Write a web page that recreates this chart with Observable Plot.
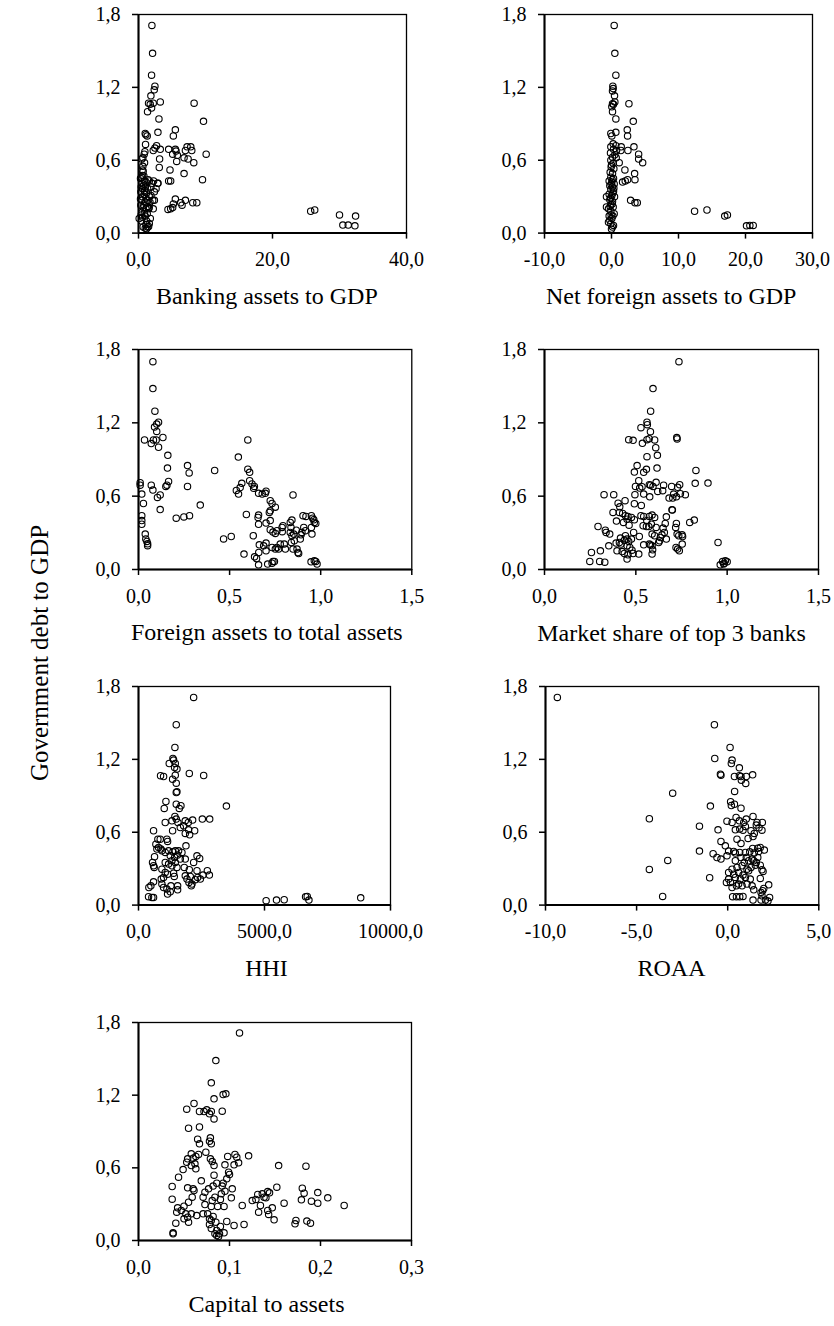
<!DOCTYPE html>
<html>
<head>
<meta charset="utf-8">
<script src="https://cdn.jsdelivr.net/npm/d3@7"></script>
<script src="https://cdn.jsdelivr.net/npm/@observablehq/plot@0.6"></script>
<style>
  body { margin: 0; background: #fff; }
  #fig { position: relative; width: 834px; height: 1326px; font-family: "Liberation Serif", "Times New Roman", serif; color: #000; }
  #ytitle { position: absolute; left: 40px; top: 653px; transform: translate(-50%, -50%) rotate(-90deg); font-size: 25px; white-space: nowrap; }
</style>
</head>
<body>
<div id="fig"><div id="ytitle">Government debt to GDP</div></div>
<script>
// Government debt to GDP (y) against seven banking-sector indicators (x).
const yTicks = [0, 0.6, 1.2, 1.8];

// Each series holds [indicator value, government debt to GDP] pairs.
const bankingAssetsToGdp = [
  [2.0,1.71],[2.1,1.48],[1.95,1.30],[2.45,1.21],[2.35,1.18],[1.85,1.13],[3.25,1.08],[1.5,1.07],[2.2,1.07],[1.75,1.06],
  [1.95,1.03],[1.35,1.0],[8.3,1.07],[9.7,0.92],[3.05,0.94],[2.9,0.83],[1.0,0.82],[1.1,0.81],[1.3,0.80],[5.5,0.85],
  [5.2,0.80],[1.05,0.73],[2.7,0.72],[2.45,0.70],[2.2,0.68],[3.25,0.69],[0.95,0.67],[0.85,0.65],[4.5,0.69],[5.5,0.69],
  [5.6,0.675],[5.1,0.65],[5.8,0.64],[7.25,0.71],[7.8,0.71],[7.95,0.68],[7.0,0.68],[6.8,0.62],[7.4,0.61],[8.25,0.58],
  [10.1,0.65],[5.7,0.59],[3.15,0.61],[3.1,0.54],[0.65,0.62],[0.5,0.61],[0.65,0.55],[0.7,0.51],[4.7,0.52],[6.8,0.49],
  [4.5,0.43],[4.8,0.43],[9.55,0.44],[2.9,0.41],[2.25,0.43],[1.45,0.44],
  [0.6,0.475],[0.45,0.46],[0.86,0.43],[0.5,0.41],[1.11,0.42],[0.76,0.39],[1.01,0.38],[0.6,0.365],[1.36,0.365],[0.35,0.34],
  [0.86,0.32],[1.21,0.33],[0.6,0.30],[1.11,0.29],[1.61,0.30],[0.5,0.27],[0.96,0.255],[1.36,0.27],[1.86,0.31],[0.35,0.23],
  [0.71,0.21],[1.11,0.2],[1.51,0.2],[0.5,0.17],[0.86,0.16],[0.6,0.13],[0.1,0.12],[0.45,0.1],[1.01,0.14],[1.21,0.1],
  [1.11,0.07],[1.36,0.05],[1.01,0.04],[1.21,0.035],[1.51,0.055],[1.61,0.08],[1.76,0.12],[1.86,0.38],[2.02,0.41],[1.61,0.43],
  [2.12,0.27],[2.37,0.27],[1.71,0.255],[2.87,0.41],[2.62,0.365],[2.37,0.34],
  [0.3,0.45],[0.8,0.47],[0.4,0.38],[0.9,0.35],[0.3,0.28],[0.8,0.23],[0.4,0.15],[0.7,0.05],[1.3,0.16],[0.55,0.52],[0.9,0.58],
  [1.4,0.22],[1.6,0.21],[2.2,0.20],[5.5,0.28],[5.2,0.24],[5.1,0.21],[4.8,0.20],[4.4,0.195],[6.3,0.25],[6.5,0.23],
  [7.0,0.27],[8.1,0.25],[8.7,0.25],[25.7,0.18],[26.3,0.19],[30.0,0.15],[32.4,0.14],[30.5,0.066],[31.3,0.066],[32.3,0.06]
];

const netForeignAssetsToGdp = [
  [0.4,1.71],[0.5,1.48],[0.65,1.30],[0.2,1.21],[0.25,1.19],[0.15,1.17],[0.45,1.13],[0.5,1.08],[0.15,1.065],[0.3,1.06],
  [0.05,1.04],[0.15,1.0],[2.6,1.065],[3.25,0.92],[0.65,0.94],[2.35,0.85],[2.4,0.80],[0.65,0.83],[-0.1,0.82],[0.05,0.80],
  [1.45,0.71],[1.4,0.68],[2.45,0.68],[3.35,0.71],[4.05,0.65],[4.05,0.61],[4.65,0.58],[1.15,0.58],[2.0,0.52],[3.45,0.49],
  [3.5,0.44],[2.4,0.44],[2.05,0.43],[1.65,0.42],[2.85,0.27],[3.5,0.25],[3.85,0.25],
  [12.4,0.18],[14.25,0.19],[16.9,0.14],[17.3,0.15],[20.15,0.06],[20.65,0.063],[21.15,0.063],
  [0.25,0.735],[0.65,0.72],[-0.1,0.71],[0.3,0.69],[0.75,0.68],[-0.15,0.66],[0.5,0.645],[0.15,0.625],[0.7,0.62],[-0.1,0.60],
  [0.25,0.575],[-0.05,0.545],[0.35,0.53],[-0.2,0.50],[0.15,0.49],[-0.1,0.46],[0.3,0.45],[-0.35,0.43],[0.05,0.42],[0.4,0.405],
  [-0.25,0.39],[0.15,0.38],[-0.1,0.36],[0.3,0.345],[-0.35,0.32],[0.05,0.31],[-0.75,0.30],[0.45,0.30],[-0.25,0.275],[0.15,0.26],
  [-0.1,0.235],[-0.75,0.215],[-0.45,0.20],[0.25,0.215],[-0.1,0.18],[0.4,0.16],[-0.35,0.14],[0.05,0.12],[-0.45,0.09],[-0.1,0.077],
  [0.15,0.05],[0.0,0.033],[0.3,0.063],[-0.25,0.105],
  [0.1,0.44],[-0.05,0.40],[0.2,0.33],[-0.15,0.29],[0.1,0.24],[-0.2,0.22],[0.2,0.14],[-0.05,0.15],[0.35,0.37],[0.0,0.56]
];

const foreignToTotalAssets = [
  [0.079,1.70],[0.079,1.48],[0.09,1.295],[0.11,1.205],[0.10,1.19],[0.088,1.165],[0.10,1.13],[0.134,1.08],[0.033,1.06],[0.082,1.06],
  [0.097,1.06],[0.07,1.03],[0.11,1.0],[0.161,0.934],[0.159,0.83],[0.269,0.85],[0.278,0.79],[0.418,0.81],[0.165,0.72],[0.156,0.69],
  [0.15,0.68],[0.269,0.68],[0.07,0.69],[0.079,0.65],[0.009,0.71],[0.009,0.69],[0.018,0.617],[0.027,0.54],[0.119,0.61],[0.104,0.59],
  [0.119,0.49],[0.339,0.527],[0.207,0.42],[0.249,0.43],[0.28,0.44],[0.018,0.44],[0.018,0.40],[0.018,0.37],[0.037,0.29],[0.04,0.25],
  [0.046,0.23],[0.05,0.21],[0.05,0.195],[0.467,0.25],[0.509,0.27],[0.548,0.92],[0.60,1.06],[0.60,0.82],[0.61,0.795],[0.61,0.726],
  [0.537,0.647],[0.549,0.617],[0.558,0.67],[0.567,0.705],[0.623,0.70],[0.636,0.68],[0.632,0.664],[0.659,0.623],[0.679,0.617],[0.696,0.623],
  [0.70,0.64],[0.723,0.563],[0.733,0.54],[0.751,0.51],[0.718,0.467],[0.723,0.48],[0.848,0.61],[0.592,0.45],[0.659,0.445],[0.656,0.426],
  [0.659,0.37],[0.70,0.38],[0.723,0.40],[0.63,0.276],[0.723,0.325],[0.738,0.306],[0.751,0.295],[0.76,0.317],[0.788,0.344],[0.793,0.358],
  [0.789,0.309],[0.833,0.385],[0.842,0.404],[0.837,0.344],[0.833,0.303],[0.842,0.276],[0.852,0.29],[0.839,0.221],[0.855,0.235],[0.866,0.322],
  [0.903,0.44],[0.919,0.434],[0.907,0.344],[0.897,0.303],[0.892,0.284],[0.888,0.249],[0.949,0.44],[0.956,0.42],[0.962,0.407],[0.965,0.385],
  [0.973,0.377],[0.952,0.29],[0.949,0.344],[0.916,0.317],[0.87,0.167],[0.875,0.139],[0.879,0.131],[0.848,0.167],[0.80,0.208],[0.778,0.208],
  [0.76,0.18],[0.751,0.167],[0.806,0.167],[0.769,0.167],[0.733,0.18],[0.70,0.216],[0.687,0.194],[0.663,0.202],[0.70,0.153],[0.66,0.139],
  [0.637,0.104],[0.648,0.09],[0.579,0.126],[0.659,0.038],[0.709,0.044],[0.733,0.052],[0.746,0.066],[0.738,0.066],[0.947,0.063],[0.965,0.071],
  [0.973,0.066],[0.98,0.044]
];

const top3MarketShare = [
  [0.736,1.70],[0.594,1.48],[0.581,1.295],[0.561,1.205],[0.563,1.185],[0.528,1.16],[0.58,1.128],[0.461,1.062],[0.485,1.057],[0.536,1.032],
  [0.561,1.062],[0.573,1.07],[0.603,1.06],[0.609,0.997],[0.561,0.923],[0.618,0.934],[0.724,1.079],[0.726,1.068],[0.507,0.85],[0.558,0.82],
  [0.543,0.795],[0.616,0.83],[0.829,0.811],[0.825,0.705],[0.895,0.707],[0.492,0.797],[0.516,0.726],[0.498,0.68],[0.521,0.666],[0.534,0.677],
  [0.574,0.694],[0.581,0.69],[0.594,0.68],[0.611,0.713],[0.62,0.639],[0.652,0.69],[0.647,0.645],[0.696,0.68],[0.707,0.617],[0.682,0.584],
  [0.702,0.584],[0.722,0.595],[0.74,0.694],[0.729,0.672],[0.744,0.62],[0.771,0.612],[0.70,0.486],[0.543,0.617],[0.576,0.595],[0.495,0.612],
  [0.326,0.612],[0.379,0.612],[0.441,0.563],[0.492,0.538],[0.53,0.524],[0.403,0.543],[0.412,0.513],[0.375,0.467],[0.41,0.467],[0.428,0.459],
  [0.443,0.44],[0.457,0.434],[0.476,0.426],[0.492,0.407],[0.452,0.412],[0.432,0.385],[0.394,0.396],[0.463,0.363],[0.528,0.44],[0.543,0.434],
  [0.574,0.434],[0.589,0.445],[0.603,0.426],[0.56,0.399],[0.54,0.358],[0.558,0.352],[0.571,0.352],[0.585,0.371],[0.611,0.344],[0.589,0.29],
  [0.603,0.276],[0.649,0.339],[0.661,0.377],[0.667,0.431],[0.698,0.489],[0.656,0.303],[0.643,0.284],[0.634,0.262],[0.625,0.221],[0.63,0.235],
  [0.667,0.249],[0.722,0.377],[0.718,0.344],[0.726,0.29],[0.735,0.276],[0.753,0.284],[0.756,0.27],[0.754,0.208],[0.72,0.18],[0.729,0.167],
  [0.738,0.153],[0.795,0.385],[0.82,0.404],[0.95,0.221],[0.975,0.066],[0.99,0.071],[1.0,0.063],[0.962,0.038],[0.981,0.044],[0.984,0.052],
  [0.293,0.352],[0.333,0.322],[0.337,0.303],[0.357,0.29],[0.352,0.194],[0.392,0.216],[0.41,0.221],[0.416,0.257],[0.443,0.276],[0.452,0.249],
  [0.437,0.24],[0.461,0.229],[0.476,0.249],[0.488,0.303],[0.519,0.27],[0.419,0.208],[0.452,0.194],[0.467,0.18],[0.479,0.158],[0.397,0.153],
  [0.425,0.147],[0.437,0.131],[0.457,0.12],[0.485,0.131],[0.452,0.085],[0.516,0.126],[0.543,0.202],[0.574,0.208],[0.589,0.194],[0.58,0.2],
  [0.592,0.161],[0.589,0.126],[0.257,0.139],[0.306,0.153],[0.248,0.066],[0.302,0.066],[0.33,0.06]
];

const hhi = [
  [2188,1.71],[1498,1.485],[1445,1.298],[1366,1.207],[1392,1.194],[1220,1.166],[1459,1.166],[1432,1.133],[1525,1.12],[2016,1.084],
  [2586,1.067],[875,1.065],[995,1.059],[1459,1.07],[1353,1.037],[1498,1.004],[1525,0.933],[1498,0.927],[1088,0.853],[1021,0.796],
  [1498,0.831],[1684,0.818],[1618,0.796],[3488,0.815],[1445,0.73],[1061,0.68],[1326,0.694],[1353,0.612],[1498,0.708],[1565,0.68],
  [1658,0.639],[1856,0.694],[1976,0.68],[2148,0.70],[1790,0.653],[1989,0.62],[1856,0.59],[2029,0.579],[2228,0.612],[2533,0.708],
  [2825,0.708],[597,0.612],[769,0.543],[862,0.543],[1127,0.543],[1154,0.524],[690,0.502],[796,0.475],[889,0.461],[928,0.447],
  [729,0.461],[636,0.398],[557,0.351],[597,0.324],[623,0.31],[597,0.192],[491,0.159],[411,0.145],[398,0.069],[530,0.063],
  [597,0.063],[1061,0.434],[1193,0.447],[1366,0.439],[1459,0.447],[1591,0.447],[1724,0.434],[1883,0.488],[1260,0.406],[1432,0.392],
  [1552,0.412],[1326,0.365],[1459,0.351],[1658,0.379],[1856,0.379],[1061,0.351],[1193,0.338],[1326,0.324],[1525,0.31],[1817,0.31],
  [2016,0.291],[2188,0.351],[2321,0.406],[2427,0.384],[928,0.296],[1061,0.269],[1154,0.255],[1392,0.263],[1419,0.236],[995,0.228],
  [902,0.214],[928,0.173],[995,0.145],[1127,0.132],[1286,0.159],[1552,0.159],[1552,0.126],[1154,0.091],[1260,0.11],[1923,0.214],
  [2002,0.187],[2095,0.159],[2122,0.173],[1856,0.241],[2055,0.236],[2254,0.209],[2347,0.228],[2559,0.247],[2732,0.283],[2812,0.247],
  [2321,0.283],[2453,0.214],[5065,0.036],[5476,0.041],[5781,0.044],[6630,0.069],[6696,0.071],[6763,0.041],[8818,0.06]
];

const roaa = [
  [-9.35,1.71],[-0.73,1.485],[0.13,1.298],[-0.71,1.207],[0.24,1.194],[0.2,1.166],[0.64,1.13],[-0.4,1.078],[-0.37,1.07],[0.37,1.059],
  [0.64,1.065],[0.73,1.059],[1.02,1.059],[1.37,1.073],[0.75,1.029],[0.99,1.002],[0.38,0.936],[-3.02,0.922],[-0.95,0.815],[0.16,0.851],
  [0.2,0.82],[0.37,0.831],[0.73,0.798],[-4.3,0.711],[-1.55,0.65],[-0.53,0.62],[-1.55,0.445],[-0.8,0.423],[-0.37,0.524],[-0.13,0.488],
  [-0.59,0.392],[-0.37,0.379],[-4.3,0.294],[-3.29,0.368],[-3.57,0.071],[-0.99,0.225],[-0.04,0.691],[0.24,0.681],[0.46,0.722],[0.64,0.694],
  [0.88,0.681],[1.02,0.708],[1.39,0.73],[1.61,0.681],[1.9,0.681],[0.42,0.62],[0.66,0.626],[0.84,0.617],[0.97,0.648],[1.28,0.612],
  [1.46,0.59],[1.57,0.659],[1.72,0.637],[1.88,0.617],[1.39,0.565],[1.12,0.549],[0.51,0.543],[0.73,0.508],[0.05,0.445],[0.33,0.442],
  [0.42,0.428],[-0.04,0.406],[0.66,0.434],[0.97,0.434],[1.21,0.439],[1.37,0.466],[1.65,0.469],[1.79,0.475],[2.01,0.453],[1.7,0.442],
  [1.46,0.428],[1.65,0.392],[1.34,0.379],[1.02,0.392],[0.73,0.392],[0.42,0.365],[0.91,0.351],[1.15,0.365],[1.43,0.365],[1.57,0.351],
  [1.79,0.329],[1.88,0.291],[1.94,0.277],[1.52,0.329],[1.28,0.31],[1.06,0.296],[0.79,0.324],[0.51,0.31],[0.24,0.296],[0.05,0.269],
  [0.33,0.255],[0.6,0.269],[0.84,0.247],[1.15,0.283],[0.42,0.228],[0.7,0.214],[0.97,0.228],[1.24,0.214],[1.79,0.22],[0.05,0.214],
  [-0.07,0.187],[0.15,0.187],[0.24,0.145],[0.48,0.159],[0.6,0.173],[0.79,0.159],[1.06,0.173],[1.34,0.159],[1.43,0.126],[1.83,0.104],
  [1.92,0.118],[1.88,0.077],[1.98,0.137],[2.25,0.167],[0.27,0.069],[0.48,0.069],[0.66,0.069],[0.84,0.071],[1.39,0.041],[1.83,0.041],
  [2.07,0.041],[2.21,0.033],[2.3,0.063]
];

const capitalToAssets = [
  [0.111,1.714],[0.085,1.486],[0.080,1.302],[0.093,1.205],[0.096,1.211],[0.083,1.17],[0.061,1.131],[0.053,1.084],[0.067,1.065],[0.072,1.065],
  [0.075,1.079],[0.080,1.065],[0.078,1.046],[0.092,1.068],[0.083,1.004],[0.055,0.927],[0.067,0.938],[0.065,0.837],[0.067,0.798],[0.079,0.848],
  [0.078,0.82],[0.08,0.798],[0.074,0.729],[0.058,0.716],[0.054,0.674],[0.053,0.647],[0.06,0.68],[0.063,0.694],[0.066,0.71],[0.062,0.633],
  [0.063,0.592],[0.058,0.619],[0.079,0.674],[0.081,0.652],[0.083,0.619],[0.098,0.694],[0.106,0.71],[0.108,0.688],[0.11,0.641],[0.105,0.625],
  [0.095,0.625],[0.121,0.699],[0.154,0.619],[0.184,0.614],[0.049,0.586],[0.044,0.523],[0.037,0.446],[0.037,0.341],[0.069,0.493],[0.083,0.539],
  [0.099,0.564],[0.1,0.545],[0.097,0.509],[0.093,0.473],[0.086,0.473],[0.082,0.449],[0.077,0.427],[0.073,0.399],[0.071,0.358],[0.092,0.449],
  [0.095,0.407],[0.103,0.427],[0.091,0.385],[0.09,0.339],[0.102,0.352],[0.084,0.358],[0.081,0.33],[0.087,0.281],[0.094,0.281],[0.08,0.281],
  [0.073,0.297],[0.054,0.435],[0.06,0.427],[0.061,0.413],[0.059,0.358],[0.055,0.316],[0.05,0.283],[0.043,0.27],[0.047,0.248],[0.042,0.234],
  [0.052,0.22],[0.054,0.193],[0.05,0.179],[0.055,0.151],[0.058,0.22],[0.064,0.206],[0.071,0.22],[0.076,0.22],[0.078,0.179],[0.08,0.165],
  [0.078,0.132],[0.08,0.099],[0.082,0.198],[0.085,0.151],[0.086,0.083],[0.084,0.055],[0.086,0.041],[0.088,0.033],[0.089,0.055],[0.094,0.063],
  [0.09,0.116],[0.097,0.157],[0.105,0.124],[0.116,0.132],[0.041,0.143],[0.038,0.063],[0.038,0.055],[0.114,0.289],[0.125,0.33],[0.129,0.339],
  [0.131,0.38],[0.136,0.385],[0.134,0.289],[0.132,0.234],[0.138,0.358],[0.14,0.352],[0.142,0.404],[0.144,0.394],[0.142,0.248],[0.143,0.215],
  [0.147,0.27],[0.152,0.44],[0.149,0.171],[0.16,0.308],[0.172,0.138],[0.173,0.165],[0.179,0.336],[0.18,0.432],[0.182,0.391],[0.185,0.16],
  [0.189,0.143],[0.19,0.325],[0.197,0.396],[0.197,0.308],[0.208,0.352],[0.226,0.289]
];

// Panel layout: frame box [left, top, right, bottom] in page pixels.
const panels = [
  {title: "Banking assets to GDP",           data: bankingAssetsToGdp,    domain: [0, 40],     ticks: [0, 20, 40],           box: [137.7, 13.7, 405.7, 232.3], titleX: 266},
  {title: "Net foreign assets to GDP",       data: netForeignAssetsToGdp, domain: [-10, 30],   ticks: [-10, 0, 10, 20, 30],  box: [544.3, 13.7, 812.3, 232.3], titleX: 671},
  {title: "Foreign assets to total assets",  data: foreignToTotalAssets,  domain: [0, 1.5],    ticks: [0, 0.5, 1, 1.5],      box: [137.7, 349, 411, 569],      titleX: 266},
  {title: "Market share of top 3 banks",     data: top3MarketShare,       domain: [0, 1.5],    ticks: [0, 0.5, 1, 1.5],      box: [544, 349, 818, 569],        titleX: 671},
  {title: "HHI",                             data: hhi,                   domain: [0, 10000],  ticks: [0, 5000, 10000],      box: [138, 685.7, 390, 904.3],    titleX: 266},
  {title: "ROAA",                            data: roaa,                  domain: [-10, 5],    ticks: [-10, -5, 0, 5],       box: [545, 685.7, 818.3, 904.3],  titleX: 671},
  {title: "Capital to assets",               data: capitalToAssets,       domain: [0, 0.3],    ticks: [0, 0.1, 0.2, 0.3],    box: [138, 1022, 411, 1240],      titleX: 266}
];

const fmt = d => d.toFixed(1).replace(".", ",");
const fig = document.getElementById("fig");
const mL = 75, mT = 14, mR = 45, mB = 100;

for (const p of panels) {
  const [l, t, r, b] = p.box;
  const w = r - l, h = b - t;
  const chart = Plot.plot({
    width: w + mL + mR,
    height: h + mT + mB,
    marginLeft: mL, marginTop: mT, marginRight: mR, marginBottom: mB,
    style: {fontFamily: "'Liberation Serif', 'Times New Roman', serif", fontSize: "20px", color: "#000", background: "transparent", overflow: "visible"},
    x: {domain: p.domain},
    y: {domain: [0, 1.8]},
    marks: [
      Plot.frame({stroke: "#000", strokeWidth: 1.3}),
      Plot.axisX({ticks: p.ticks, tickFormat: fmt, tickSize: 6, tickPadding: 13, label: null, strokeWidth: 1.5}),
      Plot.axisY({ticks: yTicks, tickFormat: fmt, tickSize: 6, tickPadding: 12, label: null, strokeWidth: 1.5}),
      Plot.ruleY([0], {stroke: "#000", strokeWidth: 2}),
      Plot.ruleX([p.domain[0]], {stroke: "#000", strokeWidth: 2}),
      Plot.dot(p.data, {x: d => d[0], y: d => d[1], r: 3.2, stroke: "#000", strokeWidth: 1.1, fill: "none"}),
      Plot.text([p.title], {frameAnchor: "bottom", dy: 71, dx: p.titleX - (l + r) / 2, fontSize: 24, fill: "#000"})
    ]
  });
  chart.style.position = "absolute";
  chart.style.left = (l - mL) + "px";
  chart.style.top = (t - mT) + "px";
  fig.appendChild(chart);
}
</script>
</body>
</html>
